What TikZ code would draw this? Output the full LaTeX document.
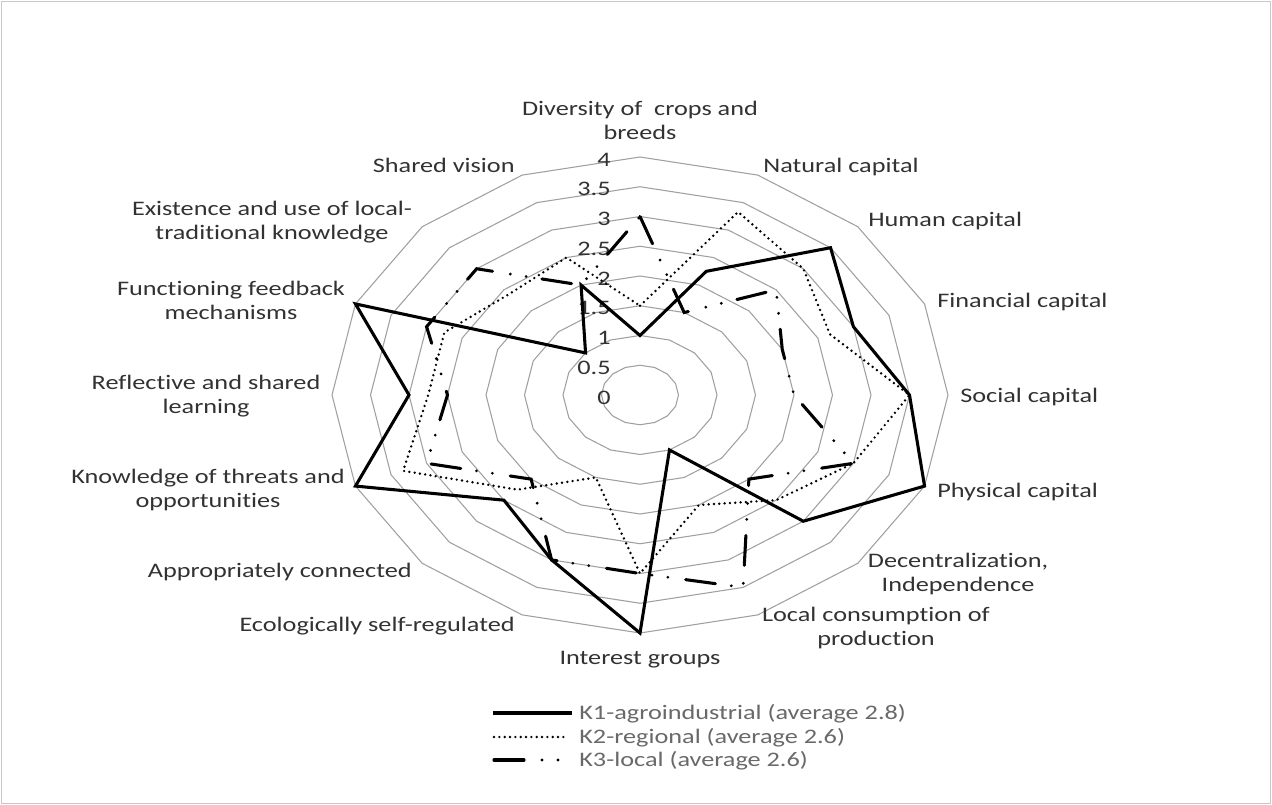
\documentclass[tikz,border=0pt]{standalone}
\usepackage{fontspec}
\setmainfont{Carlito}[Ligatures=NoCommon]
\definecolor{ringgray}{RGB}{160,160,160}
\definecolor{labelgray}{RGB}{50,50,50}
\definecolor{legendgray}{RGB}{105,105,105}
\definecolor{framegray}{RGB}{200,200,200}
% plot centre and horizontal / vertical length of one unit (px)
\newcommand{\CX}{640}
\newcommand{\CY}{395}
\newcommand{\RadX}{77}
\newcommand{\RadY}{59.5}
\begin{document}
\begin{tikzpicture}[x=0.75pt,y=-0.75pt,
  ring/.style={draw=ringgray, line width=0.8pt, line join=miter},
  kone/.style={draw=black, line width=2.3pt, line join=miter},
  ktwo/.style={draw=black, line width=2pt, line cap=round, dash pattern=on 0pt off 4pt},
  kthree/.style={draw=black, line width=2.3pt, line cap=round,
    dash pattern=on 22.5pt off 13.5pt on 0pt off 12pt on 0pt off 12pt},
  txt/.style={font=\fontsize{15.5}{18}\selectfont, inner sep=0pt, xscale=1.27},
  cat/.style={txt, text=labelgray},
  tick/.style={txt, text=labelgray, anchor=east},
  leg/.style={txt, text=legendgray, anchor=base west}]

\useasboundingbox (0,0) rectangle (1272,805);
\draw[framegray, line width=0.8pt] (1.5,1.5) rectangle (1270.5,803.5);

% concentric 16-gon grid, 0.5 to 4
\foreach \r in {0.5,1.0,1.5,2.0,2.5,3.0,3.5,4.0} {
  \draw[ring] ({\CX},{\CY-\RadY*\r})
    \foreach \i in {1,...,15} { -- ({\CX+\RadX*\r*sin(22.5*\i)},{\CY-\RadY*\r*cos(22.5*\i)}) } -- cycle;
}

% scale values
\foreach \t in {0,0.5,1,1.5,2,2.5,3,3.5,4}
  \node[tick] (tick-\t) at (611,{\CY-\RadY*\t+2.5}) {\t};

% data points of the three clusters
\foreach \v [count=\i from 0] in {1,2.25,3.5,3,3.5,4,3,1,4,3,2.5,4,3,4,1,2}
  \coordinate (ka-\i) at ({\CX+\RadX*\v*sin(22.5*\i)},{\CY-\RadY*\v*cos(22.5*\i)});
\foreach \v [count=\i from 0] in {1.5,3.33,3,2.67,3.5,3,2.5,2,3,1.5,2.25,3.33,2.75,2.75,2.4,2.5}
  \coordinate (kb-\i) at ({\CX+\RadX*\v*sin(22.5*\i)},{\CY-\RadY*\v*cos(22.5*\i)});
\foreach \v [count=\i from 0] in {3,1.5,2.5,2,2,3,2,3.5,3,3,2,3,2.5,3,3,2}
  \coordinate (kc-\i) at ({\CX+\RadX*\v*sin(22.5*\i)},{\CY-\RadY*\v*cos(22.5*\i)});

\draw[kone] (ka-0) \foreach \i in {1,...,15} { -- (ka-\i) } -- cycle;
\draw[ktwo] (kb-0) \foreach \i in {1,...,15} { -- (kb-\i) } -- cycle;
\draw[kthree] (kc-0) \foreach \i in {1,...,15} { -- (kc-\i) } -- cycle;

% category labels
\node[cat, anchor=base] (c0a) at (640,116) {Diversity of\ \ crops and};
\node[cat, anchor=base] (c0b) at (640,140) {breeds};
\node[cat, anchor=base west] (c1) at (763,173) {Natural capital};
\node[cat, anchor=base west] (c2) at (868,227) {Human capital};
\node[cat, anchor=base west] (c3) at (937,308) {Financial capital};
\node[cat, anchor=base west] (c4) at (960,403) {Social capital};
\node[cat, anchor=base west] (c5) at (937,498) {Physical capital};
\node[cat, anchor=base] (c6a) at (958,568) {Decentralization,};
\node[cat, anchor=base] (c6b) at (958,592) {Independence};
\node[cat, anchor=base] (c7a) at (876,621) {Local consumption of};
\node[cat, anchor=base] (c7b) at (876,645) {production};
\node[cat, anchor=base] (c8) at (640,664) {Interest groups};
\node[cat, anchor=base east] (c9) at (515,631) {Ecologically self-regulated};
\node[cat, anchor=base east] (c10) at (412,578) {Appropriately connected};
\node[cat, anchor=base] (c11a) at (208,484) {Knowledge of threats and};
\node[cat, anchor=base] (c11b) at (208,508) {opportunities};
\node[cat, anchor=base] (c12a) at (206,390) {Reflective and shared};
\node[cat, anchor=base] (c12b) at (206,414) {learning};
\node[cat, anchor=base] (c13a) at (231,296) {Functioning feedback};
\node[cat, anchor=base] (c13b) at (231,320) {mechanisms};
\node[cat, anchor=base] (c14a) at (272,216) {Existence and use of local-};
\node[cat, anchor=base] (c14b) at (272,240) {traditional knowledge};
\node[cat, anchor=base east] (c15) at (515,173) {Shared vision};

% legend
\coordinate (la1) at (493,713); \coordinate (lb1) at (572,713);
\coordinate (la2) at (494,737); \coordinate (lb2) at (564,737);
\coordinate (la3) at (494,760); \coordinate (lb3) at (560,760);
\draw[kone] (la1) -- (lb1);
\draw[ktwo] (la2) -- (lb2);
\draw[kthree] (la3) -- (lb3);
\node[leg] (l1) at (579,719) {K1-agroindustrial (average 2.8)};
\node[leg] (l2) at (579,743) {K2-regional (average 2.6)};
\node[leg] (l3) at (579,766) {K3-local (average 2.6)};
\end{tikzpicture}
\end{document}
